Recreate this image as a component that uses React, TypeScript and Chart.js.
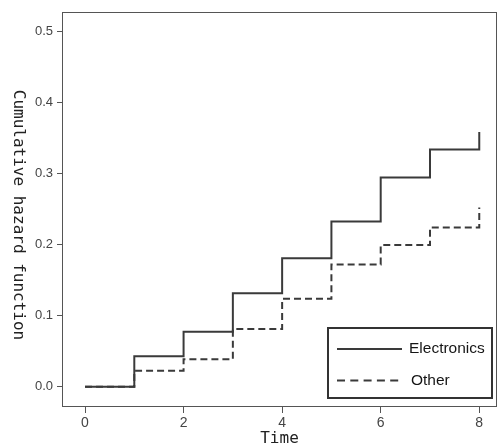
import React, { useEffect, useRef } from "react";
import { Chart, registerables } from "chart.js";

Chart.register(...registerables);

const timePoints = [0, 1, 2, 3, 4, 5, 6, 7, 8];
const electronics = [0, 0.043, 0.0775, 0.1315, 0.1805, 0.2322, 0.2943, 0.3335, 0.3581];
const other = [0, 0.0224, 0.0388, 0.0811, 0.1237, 0.172, 0.1992, 0.2238, 0.2518];
const seriesLabels = ["Electronics", "Other"];
const xTicks = [0, 2, 4, 6, 8];
const yTicks = [0, 0.1, 0.2, 0.3, 0.4, 0.5];
const xTitle = "Time";
const yTitle = "Cumulative hazard function";

const LINE = "#3a3a3a";
const AXIS = "#555555";

const framePlugin = {
  id: "frameAndLegend",
  afterDraw(chart: any) {
    const { ctx, chartArea: a } = chart;
    ctx.save();
    // full frame
    ctx.strokeStyle = AXIS;
    ctx.lineWidth = 1;
    const l = Math.round(a.left) + 0.5;
    const t = Math.round(a.top) + 0.5;
    const r = Math.round(a.right) - 0.5;
    const b = Math.round(a.bottom) - 0.5;
    ctx.strokeRect(l, t, r - l, b - t);

    // legend box
    const boxW = 164;
    const boxH = 70;
    const bx = a.right - 5 - boxW;
    const by = a.bottom - 9 - boxH;
    ctx.fillStyle = "#ffffff";
    ctx.fillRect(bx, by, boxW, boxH);
    ctx.strokeStyle = "#333333";
    ctx.lineWidth = 2;
    ctx.strokeRect(bx, by, boxW, boxH);
    const rows = [by + 21, by + 52.5];
    chart.data.datasets.forEach((ds: any, i: number) => {
      const y = rows[i];
      ctx.beginPath();
      ctx.strokeStyle = LINE;
      ctx.lineWidth = 2;
      ctx.setLineDash(ds.borderDash && ds.borderDash.length ? [8, 5.3] : []);
      ctx.moveTo(bx + 9, y);
      ctx.lineTo(bx + 74, y);
      ctx.stroke();
      ctx.setLineDash([]);
      ctx.fillStyle = "#151515";
      ctx.font = "15.5px 'Liberation Sans', Arial, sans-serif";
      ctx.textBaseline = "middle";
      ctx.textAlign = "left";
      ctx.fillText(ds.label, bx + 81 + (i === 1 ? 2 : 0), y);
    });

    // axis titles (monospace)
    ctx.fillStyle = "#222222";
    ctx.font = "16px 'DejaVu Sans Mono', monospace";
    ctx.textAlign = "center";
    ctx.textBaseline = "alphabetic";
    ctx.fillText(xTitle, (a.left + a.right) / 2, 443);
    ctx.save();
    ctx.translate(13.5, 215);
    ctx.rotate(Math.PI / 2);
    ctx.fillText(yTitle, 0, 0);
    ctx.restore();

    ctx.restore();
  },
};

export default function App() {
  const canvasRef = useRef<HTMLCanvasElement | null>(null);

  useEffect(() => {
    if (!canvasRef.current) return;
    const chart = new Chart(canvasRef.current, {
      type: "line",
      data: {
        datasets: [
          {
            label: seriesLabels[0],
            data: timePoints.map((t, i) => ({ x: t, y: electronics[i] })),
            borderColor: LINE,
            borderWidth: 2,
            pointRadius: 0,
            stepped: "before",
            fill: false,
          },
          {
            label: seriesLabels[1],
            data: timePoints.map((t, i) => ({ x: t, y: other[i] })),
            borderColor: LINE,
            borderWidth: 2,
            borderDash: [7, 4],
            pointRadius: 0,
            stepped: "before",
            fill: false,
          },
        ],
      },
      options: {
        animation: false,
        responsive: false,
        devicePixelRatio: 1,
        layout: { padding: { top: 10, right: 4, left: 0, bottom: 0 } },
        plugins: {
          legend: { display: false },
          tooltip: { enabled: false },
        },
        scales: {
          x: {
            type: "linear",
            min: -0.467,
            max: 8.36,
            afterBuildTicks: (scale: any) => {
              scale.ticks = xTicks.map((v) => ({ value: v }));
            },
            afterFit: (scale: any) => {
              scale.height = 37;
            },
            grid: {
              drawOnChartArea: false,
              drawTicks: true,
              tickLength: 6,
              color: AXIS,
            },
            border: { display: false },
            ticks: {
              color: "#444444",
              font: { family: "'Liberation Sans', Arial, sans-serif", size: 14 },
              padding: 2,
              maxRotation: 0,
              autoSkip: false,
              callback: (v: any) => String(v),
            },
          },
          y: {
            type: "linear",
            min: -0.0284,
            max: 0.527,
            afterBuildTicks: (scale: any) => {
              scale.ticks = yTicks.map((v) => ({ value: v }));
            },
            afterFit: (scale: any) => {
              scale.width = 62;
            },
            grid: {
              drawOnChartArea: false,
              drawTicks: true,
              tickLength: 5,
              color: AXIS,
            },
            border: { display: false },
            ticks: {
              color: "#444444",
              font: { family: "'Liberation Sans', Arial, sans-serif", size: 13 },
              padding: 4,
              autoSkip: false,
              callback: (v: any) => Number(v).toFixed(1),
            },
          },
        },
      },
      plugins: [framePlugin],
    });
    return () => chart.destroy();
  }, []);

  return (
    <div style={{ position: "absolute", left: 0, top: 0, width: 501, height: 444, background: "#fff" }}>
      <canvas ref={canvasRef} width={501} height={444} style={{ display: "block", width: 501, height: 444 }} />
    </div>
  );
}
